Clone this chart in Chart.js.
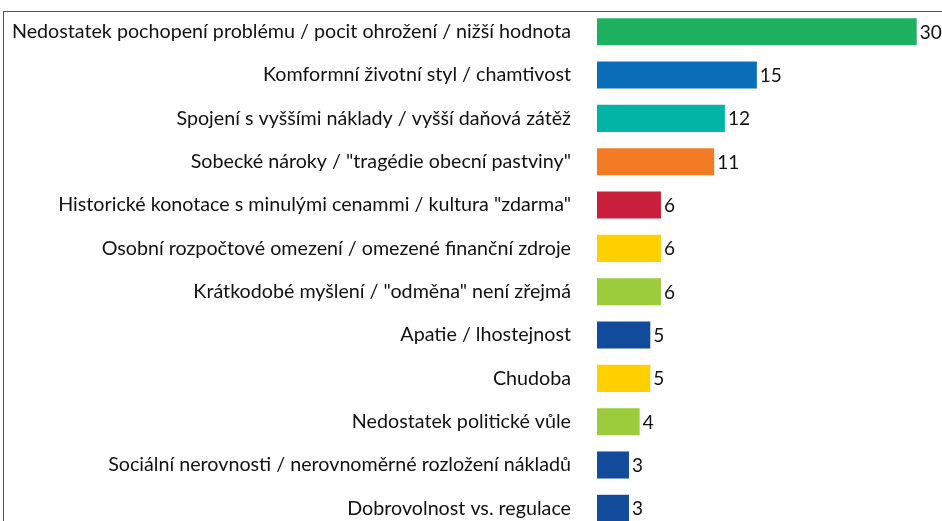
<!DOCTYPE html>
<html>
<head>
<meta charset="utf-8">
<script src="https://cdn.jsdelivr.net/npm/chart.js@4/dist/chart.umd.min.js"></script>
<style>
html,body{margin:0;padding:0;background:#fff;overflow:hidden;}
#wrap{position:relative;width:942px;height:521px;overflow:hidden;}
#frame{position:absolute;left:3px;top:11px;width:940px;height:520px;border-top:1.5px solid #555;border-left:1.5px solid #555;}
#c{position:absolute;left:0;top:0;}
</style>
</head>
<body>
<div id="wrap">
<div id="frame"></div>
<canvas id="c" width="942" height="530"></canvas>
</div>
<script>
const labels=['Nedostatek pochopení problému / pocit ohrožení / nižší hodnota','Komformní životní styl / chamtivost','Spojení s vyššími náklady / vyšší daňová zátěž','Sobecké nároky / "tragédie obecní pastviny"','Historické konotace s minulými cenammi / kultura "zdarma"','Osobní rozpočtové omezení / omezené finanční zdroje','Krátkodobé myšlení / "odměna" není zřejmá','Apatie / lhostejnost','Chudoba','Nedostatek politické vůle','Sociální nerovnosti / nerovnoměrné rozložení nákladů','Dobrovolnost vs. regulace'];
const values=[30,15,12,11,6,6,6,5,5,4,3,3];
const colors=['#1db15f','#0a6db7','#00b5a5','#f37a25','#c8203c','#ffd000','#9ccb3b','#124a9c','#ffd000','#9ccb3b','#124a9c','#124a9c'];
const FONT='Lato, "Open Sans", sans-serif';

const valueLabels={id:'valueLabels',afterDatasetsDraw(chart){
  const ctx=chart.ctx;const meta=chart.getDatasetMeta(0);
  ctx.save();ctx.font='19px '+FONT;ctx.fillStyle='#111';ctx.textBaseline='middle';ctx.textAlign='left';
  meta.data.forEach((b,i)=>{ctx.fillText(String(values[i]),b.x+3,b.y+1);});
  ctx.restore();
}};

new Chart(document.getElementById('c'),{type:'bar',
  data:{labels,datasets:[{data:values,backgroundColor:colors,borderWidth:0,categoryPercentage:1,barPercentage:0.625}]},
  options:{indexAxis:'y',responsive:false,animation:false,
    layout:{padding:{top:10,right:4,bottom:0,left:0}},
    plugins:{legend:{display:false},tooltip:{enabled:false}},
    scales:{
      x:{min:0,max:32,display:false,grid:{display:false}},
      y:{grid:{display:false},border:{display:false},
        ticks:{color:'#111',font:{family:FONT,size:19.7},padding:18},
        afterFit(s){s.width=597;s.paddingTop=0;s.paddingBottom=0;}}
    }},
  plugins:[valueLabels]});
</script>
</body>
</html>
